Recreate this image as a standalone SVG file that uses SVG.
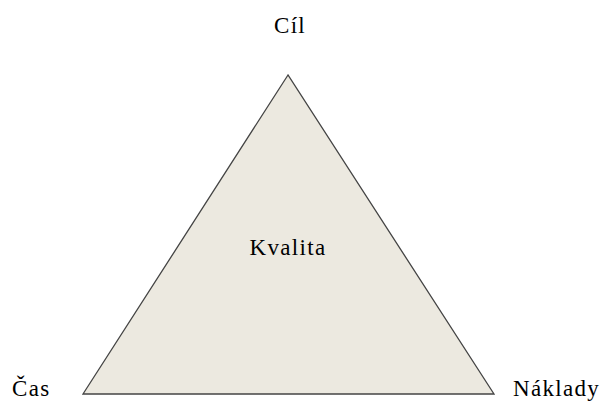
<svg xmlns="http://www.w3.org/2000/svg" width="604" height="401" viewBox="0 0 604 401">
<style>
text{font-family:"Liberation Serif","Times New Roman",serif;font-size:23px;letter-spacing:1.3px;fill:#000}
.tri{fill:#ECE9E0;stroke:#444;stroke-width:1.3}
</style>
<rect width="604" height="401" fill="#fff"/>
<g id="triangle"><polygon class="tri" points="288,75 83,394 494,394"/><text x="288" y="255" text-anchor="middle">Kvalita</text></g>
<g id="cil"><text x="290" y="33" text-anchor="middle">Cíl</text></g>
<g id="cas"><text x="12" y="396">Čas</text></g>
<g id="naklady"><text x="513" y="396">Náklady</text></g>
<g id="connectors"/>
</svg>
